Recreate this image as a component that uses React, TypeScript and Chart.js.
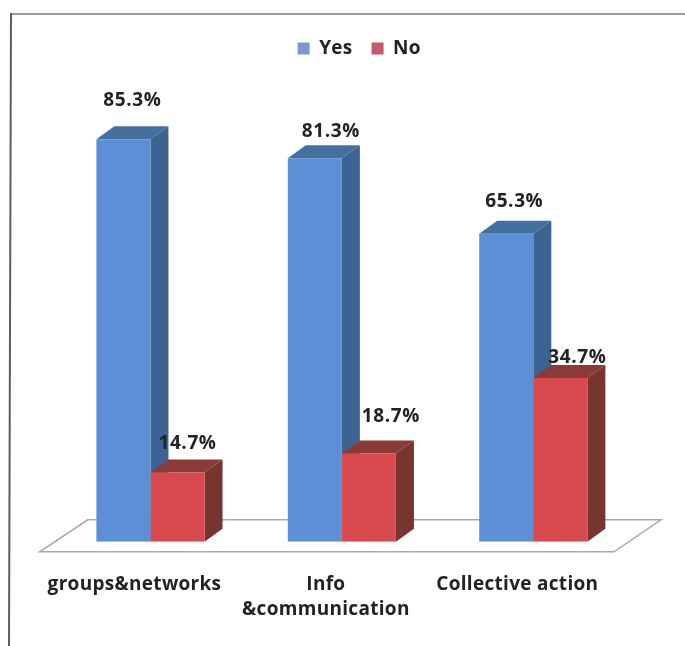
import React, { useEffect, useRef } from "react";
import { Chart, registerables } from "chart.js";

Chart.register(...registerables);

const categories = ["groups&networks", ["Info", "&communication"], "Collective action"];
const yesValues = [85.3, 81.3, 65.3];
const noValues = [14.7, 18.7, 34.7];
const seriesNames = ["Yes", "No"];
const frontColors = ["#5c8fd6", "#d94a4e"];
const topColors = ["#44709f", "#8c3a38"];
const sideColors = ["#3d6491", "#78342f"];
const legendColors = ["#769dc8", "#c65b68"];
// hand-placed label offsets (dx, dy) from the top centre of each bar
const labelOffsets = [
  [[9, -39], [16, -27], [8, -32]],
  [[10, -29], [22, -37], [17, -20]],
];

const FONT = '"Open Sans", sans-serif';
const INK = "#222222";
const DX = 18;
const DY = 13;

const scene = {
  id: "scene",
  beforeDraw(chart: any) {
    const { ctx, width, height } = chart;
    (ctx as any).letterSpacing = "0.3px";
    ctx.save();
    ctx.strokeStyle = "#9a9a9a";
    ctx.lineWidth = 2;
    ctx.beginPath();
    ctx.moveTo(11, 14);
    ctx.lineTo(width, 14);
    ctx.stroke();
    ctx.strokeStyle = "#5e5e5e";
    ctx.beginPath();
    ctx.moveTo(11, 13);
    ctx.lineTo(9, height);
    ctx.stroke();
    ctx.restore();
  },
  beforeDatasetsDraw(chart: any) {
    const { ctx, chartArea } = chart;
    const base = chart.scales.y.getPixelForValue(0);
    ctx.save();
    // floor
    ctx.strokeStyle = "#a8a8a4";
    ctx.lineWidth = 1.5;
    ctx.beginPath();
    ctx.moveTo(chartArea.left - 15, base + 10);
    ctx.lineTo(chartArea.right - 15, base + 10);
    ctx.lineTo(chartArea.right + 32, base - 22);
    ctx.lineTo(chartArea.left + 33, base - 22);
    ctx.closePath();
    ctx.stroke();
    // depth faces
    [0, 1].forEach((d) => {
      chart.getDatasetMeta(d).data.forEach((bar: any) => {
        const half = bar.width / 2;
        const l = bar.x - half;
        const r = bar.x + half;
        ctx.fillStyle = topColors[d];
        ctx.beginPath();
        ctx.moveTo(l, bar.y);
        ctx.lineTo(l + DX, bar.y - DY);
        ctx.lineTo(r + DX, bar.y - DY);
        ctx.lineTo(r, bar.y);
        ctx.closePath();
        ctx.fill();
        ctx.fillStyle = sideColors[d];
        ctx.beginPath();
        ctx.moveTo(r, bar.y);
        ctx.lineTo(r + DX, bar.y - DY);
        ctx.lineTo(r + DX, base - DY);
        ctx.lineTo(r, base);
        ctx.closePath();
        ctx.fill();
      });
    });
    ctx.restore();
  },
  afterDatasetsDraw(chart: any) {
    const { ctx } = chart;
    ctx.save();
    ctx.font = `bold 19px ${FONT}`;
    ctx.fillStyle = INK;
    ctx.textAlign = "center";
    ctx.textBaseline = "middle";
    (ctx as any).letterSpacing = "0.6px";
    [0, 1].forEach((d) => {
      chart.getDatasetMeta(d).data.forEach((bar: any, i: number) => {
        const value = chart.data.datasets[d].data[i];
        const [ox, oy] = labelOffsets[d][i];
        ctx.fillText(`${value.toFixed(1)}%`, bar.x + ox, bar.y + oy);
      });
    });
    ctx.restore();
  },
};

export default function App() {
  const ref = useRef<HTMLCanvasElement>(null);
  useEffect(() => {
    const chart = new Chart(ref.current!, {
      type: "bar",
      plugins: [scene],
      data: {
        labels: categories as any,
        datasets: [
          { label: seriesNames[0], data: yesValues, backgroundColor: frontColors[0] },
          { label: seriesNames[1], data: noValues, backgroundColor: frontColors[1] },
        ],
      },
      options: {
        responsive: false,
        animation: false,
        layout: { padding: { top: 20, left: 54.75, right: 22.75, bottom: 2 } },
        datasets: { bar: { barPercentage: 1, categoryPercentage: 0.565 } },
        scales: {
          x: {
            grid: { display: false },
            border: { display: false },
            ticks: {
              autoSkip: false,
              maxRotation: 0,
              minRotation: 0,
              padding: 22,
              labelOffset: -16,
              color: INK,
              font: { family: FONT, weight: "bold", size: 19, lineHeight: 1.32 },
            },
          },
          y: {
            position: "right",
            min: 0,
            max: 100.4,
            grid: { display: false },
            border: { display: false },
            ticks: { display: false },
            afterFit(scale: any) {
              scale.width = 33.25;
            },
          },
        },
        plugins: {
          tooltip: { enabled: false },
          legend: {
            position: "top",
            labels: {
              boxWidth: 12,
              boxHeight: 12,
              padding: 19,
              color: INK,
              font: { family: FONT, weight: "bold", size: 19 },
              generateLabels: () =>
                seriesNames.map((text, i) => ({
                  text,
                  fillStyle: legendColors[i],
                  strokeStyle: legendColors[i],
                  lineWidth: 0,
                  datasetIndex: i,
                  fontColor: INK,
                })),
            },
          },
        },
      } as any,
    });
    return () => chart.destroy();
  }, []);
  return (
    <div style={{ position: "absolute", left: 0, top: 0, width: 685, height: 646, background: "#fff" }}>
      <canvas ref={ref} width={685} height={646} style={{ display: "block" }} />
    </div>
  );
}
